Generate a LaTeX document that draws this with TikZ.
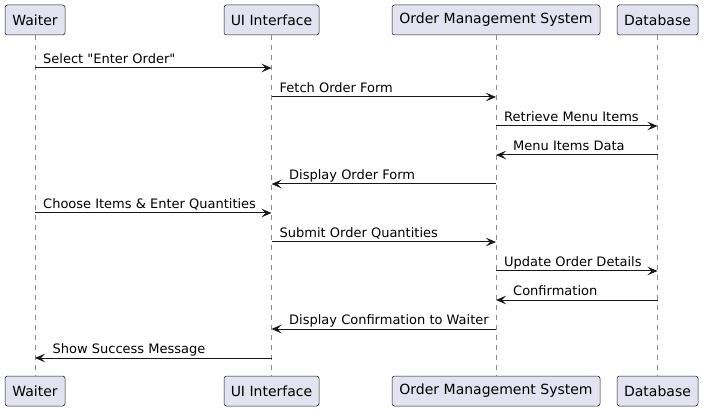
\documentclass[tikz,border=0pt]{standalone}
\usepackage{fontspec}
\setmainfont{DejaVu Sans}[Ligatures=TeXOff]
\usetikzlibrary{arrows.meta}
\definecolor{pfill}{HTML}{E2E2F0}
\definecolor{pline}{HTML}{181818}
\definecolor{lifec}{HTML}{8A8A8A}
\begin{document}
\begin{tikzpicture}[x=1pt,y=-1pt,
  part/.style={draw=pline,fill=pfill,rounded corners=2.5pt,line width=0.5pt,
    minimum height=30pt,inner sep=0pt,font=\fontsize{14}{16}\selectfont,text=black},
  life/.style={draw=lifec,line width=0.7pt,dash pattern=on 5pt off 5pt},
  msg/.style={draw=pline,line width=1pt,-{Stealth[length=10pt,width=8.5pt,inset=4pt]}},
  lbl/.style={font=\fontsize{13}{15}\selectfont,anchor=base west,inner sep=0pt,text=black}]
\useasboundingbox (0,0) rectangle (703,411);
% top participants
\node[part,minimum width=60pt]  (wT)   at (35,20)    {Waiter};
\node[part,minimum width=95pt]  (uiT)  at (271.5,20) {UI Interface};
\node[part,minimum width=208pt] (omsT) at (496,20)   {Order Management System};
\node[part,minimum width=81pt]  (dbT)  at (657.5,20) {Database};
% bottom participants
\node[part,minimum width=60pt]  (wB)   at (35,391)    {Waiter};
\node[part,minimum width=95pt]  (uiB)  at (271.5,391) {UI Interface};
\node[part,minimum width=208pt] (omsB) at (496,391)   {Order Management System};
\node[part,minimum width=81pt]  (dbB)  at (657.5,391) {Database};
% lifelines
\draw[life] (wT.south) -- (wB.north);
\draw[life] (uiT.south) -- (uiB.north);
\draw[life] (omsT.south) -- (omsB.north);
\draw[life] (dbT.south) -- (dbB.north);
% messages
\draw[msg] (wT.south |- 0,68) -- (uiT.south |- 0,68);
\node[lbl] (m1) at (43,63.5) {Select "Enter Order"};
\draw[msg] (uiT.south |- 0,97) -- (omsT.south |- 0,97);
\node[lbl] (m2) at (279.5,92.5) {Fetch Order Form};
\draw[msg] (omsT.south |- 0,126) -- (dbT.south |- 0,126);
\node[lbl] (m3) at (504,121.5) {Retrieve Menu Items};
\draw[msg] (dbT.south |- 0,155) -- (omsT.south |- 0,155);
\node[lbl] (m4) at (513,150.5) {Menu Items Data};
\draw[msg] (omsT.south |- 0,184) -- (uiT.south |- 0,184);
\node[lbl] (m5) at (289,179.5) {Display Order Form};
\draw[msg] (wT.south |- 0,213) -- (uiT.south |- 0,213);
\node[lbl] (m6) at (43,208.5) {Choose Items \& Enter Quantities};
\draw[msg] (uiT.south |- 0,242) -- (omsT.south |- 0,242);
\node[lbl] (m7) at (279.5,237.5) {Submit Order Quantities};
\draw[msg] (omsT.south |- 0,271) -- (dbT.south |- 0,271);
\node[lbl] (m8) at (504,266.5) {Update Order Details};
\draw[msg] (dbT.south |- 0,300) -- (omsT.south |- 0,300);
\node[lbl] (m9) at (513,295.5) {Confirmation};
\draw[msg] (omsT.south |- 0,329) -- (uiT.south |- 0,329);
\node[lbl] (m10) at (289,324.5) {Display Confirmation to Waiter};
\draw[msg] (uiT.south |- 0,358) -- (wT.south |- 0,358);
\node[lbl] (m11) at (52.5,353.5) {Show Success Message};
\end{tikzpicture}
\end{document}
